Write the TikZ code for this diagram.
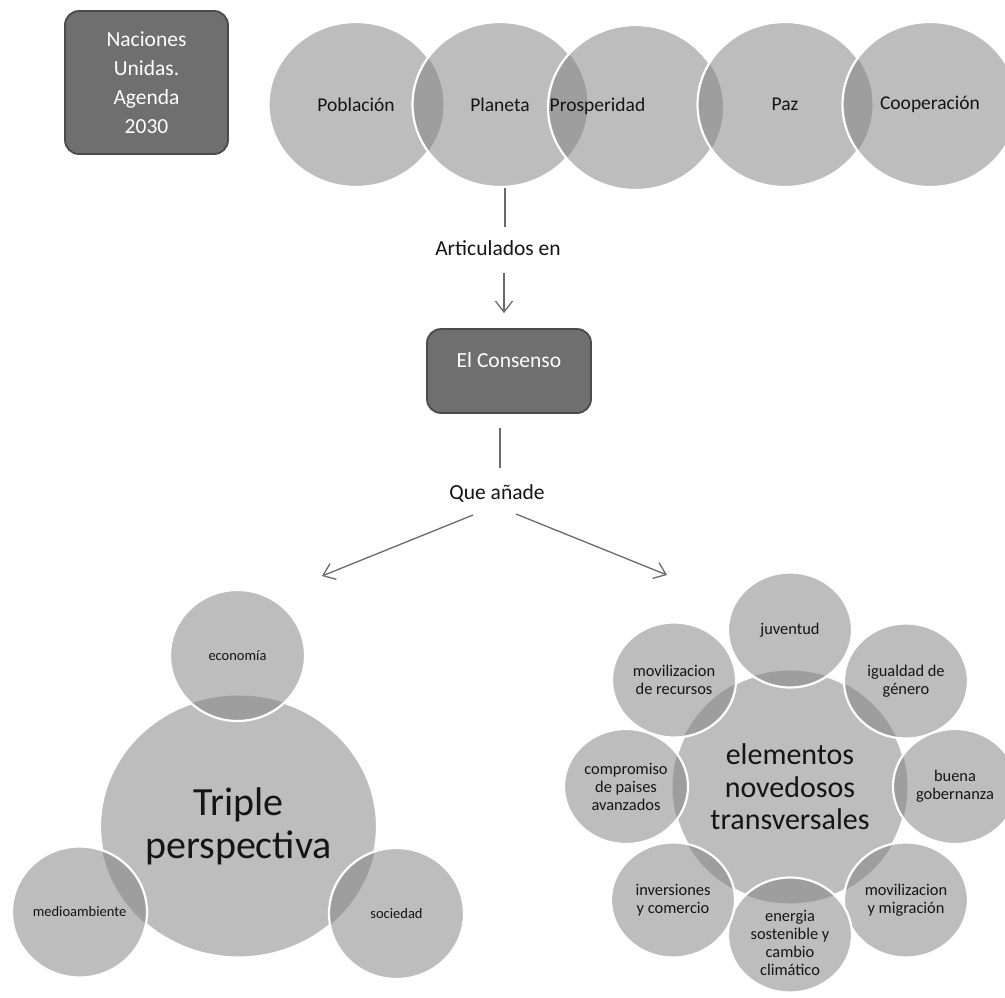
\documentclass[tikz,border=0pt]{standalone}
\usepackage{fontspec}
\setmainfont{Carlito}
\usetikzlibrary{shapes.geometric,arrows.meta}
\definecolor{cfill}{HTML}{BDBDBD}
\definecolor{lensc}{HTML}{9E9E9E}
\definecolor{boxfill}{HTML}{6F6F6F}
\definecolor{boxline}{HTML}{4B4B4B}
\definecolor{linec}{HTML}{6A6A6A}
\definecolor{txt}{HTML}{151515}
\begin{document}
\begin{tikzpicture}[x=1pt,y=-1pt,
 venn/.style={ellipse, fill=cfill, draw=white, line width=2.2pt, inner sep=0pt, text=txt, align=center},
 lens/.style n args={3}{path picture={\fill[lensc] (#1.center) ellipse [x radius=#2, y radius=#3];}},
 darkbox/.style={rectangle, rounded corners=14pt, fill=boxfill, draw=boxline, line width=1.8pt, text=white, align=center, inner sep=0pt},
 conn/.style={draw=linec, line width=1.3pt},
 arr/.style={conn, -{Straight Barb[length=11pt,width=17pt]}},
 lbl/.style={text=txt, inner sep=2pt, font=\fontsize{21.5}{24}\selectfont},
 ftop/.style={font=\fontsize{19.5}{22}\selectfont},
 fsmall/.style={font=\fontsize{14.5}{17}\selectfont},
 fout/.style={font=\fontsize{16.4}{18}\selectfont},
 topc/.style={venn, ftop, minimum width=175pt, minimum height=165pt},
 outc/.style={venn, fout, minimum width=124pt, minimum height=115pt, lens={el}{117.5pt}{116.5pt}},
 tric/.style={venn, fsmall, minimum width=135pt, minimum height=131pt, lens={tp}{138.5pt}{131pt}},
]
\useasboundingbox (0,0) rectangle (1005,997);
\clip (0,0) rectangle (1005,997);

% header box
\node[darkbox, minimum width=163pt, minimum height=143pt, font=\fontsize{21.5}{29}\selectfont] (nu) at (146.5,82.5) {Naciones\\Unidas.\\Agenda\\2030};

% top row of circles
\node[topc] (pob) at (356,104.5) {Población};
\node[topc, lens={pob}{87.5pt}{82.5pt}] (pl) at (500,104.5) {Planeta};
\node[topc, lens={pl}{87.5pt}{82.5pt}, label={[ftop, text=txt, xshift=-38pt, yshift=1.5pt]center:Prosperidad}] (pros) at (635.5,107.5) {};
\node[topc, lens={pros}{87.5pt}{82.5pt}] (paz) at (785,104.5) {Paz};
\node[topc, lens={paz}{87.5pt}{82.5pt}] (coop) at (930,104.5) {Cooperación};

% middle
\node[lbl] (art) at (498,248) {Articulados en};
\node[darkbox, minimum width=164pt, minimum height=84pt, label={[text=white, font=\fontsize{21.5}{24}\selectfont, yshift=11pt]center:El Consenso}] (cons) at (509,371) {};
\node[lbl] (que) at (497,493) {Que añade};

\coordinate (p1) at (505,227);
\draw[conn] (pl.south -| p1) -- (p1);
\coordinate (p2) at (504,273);
\draw[arr, shorten >=15pt] (p2) -- (p2 |- cons.north);
\coordinate (p3) at (500,468);
\draw[conn, shorten <=14pt] (cons.south -| p3) -- (p3);
\coordinate (q1) at (473,515);
\coordinate (t1) at (322,576);
\draw[arr] (q1) -- (t1);
\coordinate (q2) at (516,514);
\coordinate (t2) at (667,575);
\draw[arr] (q2) -- (t2);

% triple perspectiva
\node[venn, minimum width=277pt, minimum height=262pt, font=\fontsize{40}{43}\selectfont] (tp) at (238.5,826.5) {Triple\\perspectiva};
\node[tric] (eco) at (237.5,655.5) {economía};
\node[tric] (med) at (79.5,912) {medioambiente};
\node[tric] (soc) at (396.5,913.5) {sociedad};

% elementos novedosos transversales
\node[venn, minimum width=235pt, minimum height=233pt, font=\fontsize{30}{32.5}\selectfont] (el) at (790,787) {elementos\\novedosos\\transversales};
\node[outc] (ju) at (790,630) {juventud};
\node[outc] (ig) at (906,681) {igualdad de\\género};
\node[outc] (bg) at (955,786.5) {buena\\gobernanza};
\node[outc] (mm) at (906,900) {movilizacion\\y migración};
\node[outc, label={[fout, text=txt, align=center, yshift=-8pt]center:energia\\sostenible y\\cambio\\climático}] (en) at (790,935) {};
\node[outc] (ic) at (673,900) {inversiones\\y comercio};
\node[outc] (cp) at (626,786.5) {compromiso\\de paises\\avanzados};
\node[outc] (mr) at (674,680) {movilizacion\\de recursos};
\end{tikzpicture}
\end{document}
